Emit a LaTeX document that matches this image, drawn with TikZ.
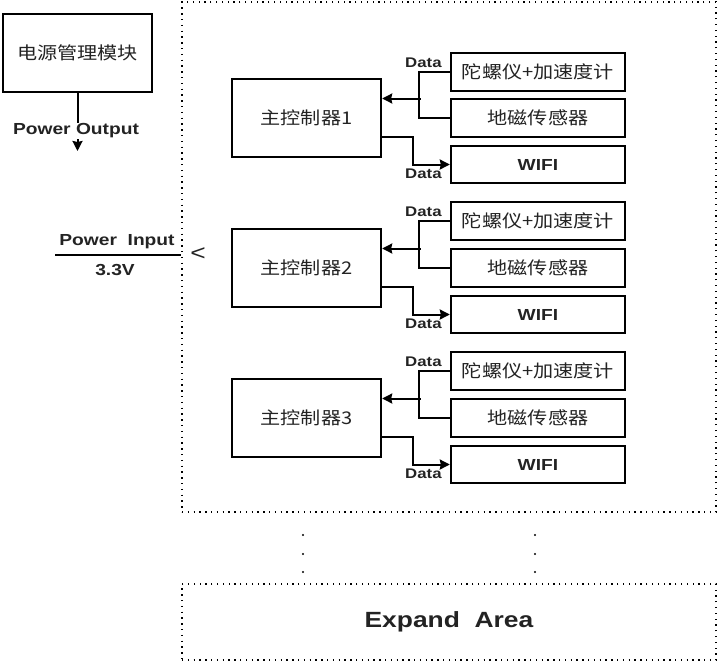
\documentclass[tikz,border=0pt]{standalone}
\usepackage{fontspec}
\newfontfamily\cjkfont{Noto Sans CJK SC}[FakeStretch=1.15]
\newfontfamily\labelfont{Liberation Sans}[FakeStretch=1.2]
\usetikzlibrary{arrows.meta,positioning}
\definecolor{inkgray}{RGB}{35,35,35}
\tikzset{
  modbox/.style={draw, line width=2.4pt, text=inkgray, font=\cjkfont\fontsize{17.5}{20}\selectfont},
  sensorbox/.style={modbox, minimum width=174pt, minimum height=38pt},
  ctrlbox/.style={modbox, minimum width=149pt, minimum height=78pt},
  wifibox/.style={sensorbox, minimum height=37pt, font=\labelfont\bfseries\fontsize{16}{18}\selectfont},
  datalabel/.style={text=inkgray, font=\labelfont\bfseries\fontsize{14}{16}\selectfont, inner sep=0pt},
  biglabel/.style={text=inkgray, font=\labelfont\bfseries\fontsize{16}{18}\selectfont, inner sep=1pt},
  areabox/.style={draw, line width=1.1pt, dash pattern=on 1.3pt off 4.5pt},
  link/.style={line width=2pt}
}
\begin{document}
\begin{tikzpicture}[x=1pt, y=-1pt, >={Stealth[length=10pt,width=10pt,inset=1pt]}]
            \useasboundingbox (0,0) rectangle (718,662);

            %Board
            \node [areabox, minimum width = 534pt, minimum height = 510pt]
            (board)at(449,257){};
            %Expand area
            \node [areabox, minimum width = 534pt, minimum height = 76pt, text = inkgray,
            font = \labelfont\bfseries\fontsize{22}{24}\selectfont]
            (expand)at(449,622){Expand~ Area};
            \fill (303,535) circle (1.1pt);
            \fill (303,554) circle (1.1pt);
            \fill (303,572) circle (1.1pt);
            \fill (535,535) circle (1.1pt);
            \fill (535,554) circle (1.1pt);
            \fill (535,572) circle (1.1pt);

            %Power module
            \node [modbox, minimum width = 149pt, minimum height = 78pt]
            (pm)at(77.5,53){电源管理模块};
            \coordinate (pout) at (77.5,151);
            \draw [link, ->](pm.south)--(pout);
            \node [biglabel, fill = white] (poutlabel)at(76,131){Power Output};

            %Power input
            \coordinate (pin) at (55,255);
            \draw [link](pin)--(pin -| board.west);
            \node [biglabel] (pinlabel)at(117,242){Power~ Input};
            \node [biglabel] (volt)at(115,270){3.3V};
            \node [text = inkgray, font = \labelfont\fontsize{22}{24}\selectfont, inner sep = 0pt]
            (lt)at(198,254){<};

            %Controller 1
            \node [ctrlbox] (ctrl1)at(306.5,118){主控制器1};
            \node [sensorbox] (gyro1)at(538,72){陀螺仪+加速度计};
            \node [sensorbox] (mag1)at(538,118){地磁传感器};
            \node [wifibox] (wifi1)at(538,164.5){WIFI};

            %Controller 2
            \node [ctrlbox] (ctrl2)at(306.5,268){主控制器2};
            \node [sensorbox] (gyro2)at(538,221){陀螺仪+加速度计};
            \node [sensorbox] (mag2)at(538,268){地磁传感器};
            \node [wifibox] (wifi2)at(538,314.5){WIFI};

            %Controller 3
            \node [ctrlbox] (ctrl3)at(306.5,418){主控制器3};
            \node [sensorbox] (gyro3)at(538,371){陀螺仪+加速度计};
            \node [sensorbox] (mag3)at(538,418){地磁传感器};
            \node [wifibox] (wifi3)at(538,464.5){WIFI};

            %Sensor buses
            \draw [link](gyro1.west)--++(-31,0)|-(mag1.west);
            \draw [link, <-]([yshift=19.5pt]ctrl1.east)--++(39,0);
            \draw [link, ->]([yshift=-19pt]ctrl1.east)--++(31,0)|-(wifi1.west);

            \draw [link](gyro2.west)--++(-31,0)|-(mag2.west);
            \draw [link, <-]([yshift=19.5pt]ctrl2.east)--++(39,0);
            \draw [link, ->]([yshift=-19pt]ctrl2.east)--++(31,0)|-(wifi2.west);

            \draw [link](gyro3.west)--++(-31,0)|-(mag3.west);
            \draw [link, <-]([yshift=19.5pt]ctrl3.east)--++(39,0);
            \draw [link, ->]([yshift=-19pt]ctrl3.east)--++(31,0)|-(wifi3.west);

            %Data labels
            \node [datalabel, above left = 4pt and 8pt of gyro1.west] (din1){Data};
            \node [datalabel, below left = 4pt and 8pt of wifi1.west] (dout1){Data};
            \node [datalabel, above left = 4pt and 8pt of gyro2.west] (din2){Data};
            \node [datalabel, below left = 4pt and 8pt of wifi2.west] (dout2){Data};
            \node [datalabel, above left = 4pt and 8pt of gyro3.west] (din3){Data};
            \node [datalabel, below left = 4pt and 8pt of wifi3.west] (dout3){Data};

        \end{tikzpicture}
\end{document}
